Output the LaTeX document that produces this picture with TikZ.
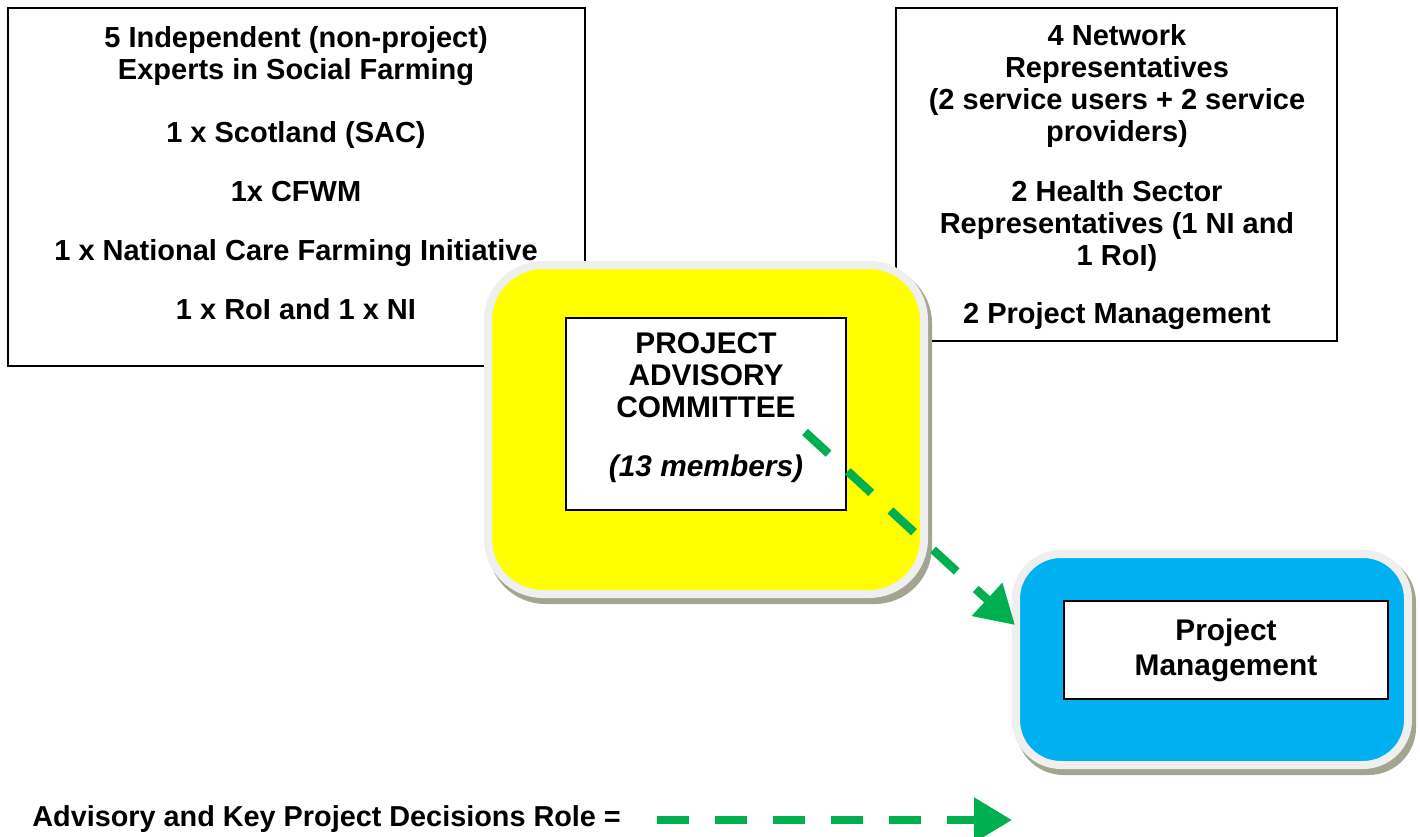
\documentclass[tikz,border=0pt]{standalone}
\usepackage{fontspec}
\setmainfont{Liberation Sans}
\usetikzlibrary{arrows.meta}
\definecolor{pacyellow}{HTML}{FFFF00}
\definecolor{pmblue}{HTML}{00B0F0}
\definecolor{arrowgreen}{HTML}{00B050}
\definecolor{rimgray}{HTML}{EFEFEF}
\definecolor{shadowgray}{HTML}{A3A590}
\begin{document}
\begin{tikzpicture}[x=0.02cm,y=-0.02cm,
  txt/.style={font=\bfseries\fontsize{16.5}{18.2}\selectfont, align=center, inner sep=0pt},
  bigtxt/.style={font=\bfseries\fontsize{17}{18.2}\selectfont, align=center, inner sep=0pt},
  plainbox/.style={draw=black, line width=0.8pt, fill=white, inner sep=0pt},
  roundbox/.style={draw=rimgray, line width=0.16cm, inner sep=0pt},
  shadowfill/.style={fill=shadowgray},
  greenarrow/.style={draw=arrowgreen, line width=0.17cm, dash pattern=on 0.64cm off 0.52cm,
    -{Triangle[length=0.76cm, width=0.86cm, fill=arrowgreen]}}
]
\useasboundingbox (0,0) rectangle (1420,836);
\fill[white] (0,0) rectangle (1420,836);

% left experts box
\node[plainbox, minimum width=577*0.02cm, minimum height=358*0.02cm] (expertsbox) at (296.5,187) {};
\node[txt, anchor=north] (expertstext) at (296,26) {5 Independent (non-project)\\Experts in Social Farming\\[17.6pt]1 x Scotland (SAC)\\[15.4pt]1x CFWM\\[15.4pt]1 x National Care Farming Initiative\\[15.4pt]1 x RoI and 1 x NI};

% right representatives box
\node[plainbox, minimum width=441*0.02cm, minimum height=333*0.02cm] (repsbox) at (1116.5,174.5) {};
\node[txt, anchor=north] (repstext) at (1117,24) {4 Network\\Representatives\\(2 service users + 2 service\\providers)\\[16pt]2 Health Sector\\Representatives (1 NI and\\1 RoI)\\[14.8pt]2 Project Management};

% yellow committee box
\fill[shadowfill, rounded corners=1.15cm] (488,266) rectangle (932,604);
\node[roundbox, fill=pacyellow, rounded corners=1.1cm, minimum width=436*0.02cm, minimum height=329*0.02cm] (committee) at (706,429.5) {};
\node[plainbox, minimum width=280*0.02cm, minimum height=192*0.02cm] (committeeinner) at (706,414) {};
\node[bigtxt, anchor=north] (committeetext) at (706,332) {PROJECT\\ADVISORY\\COMMITTEE\\[15.4pt]\textit{(13 members)}};

% blue management box
\fill[shadowfill, rounded corners=0.95cm] (1016,555) rectangle (1416,775);
\node[roundbox, fill=pmblue, rounded corners=0.9cm, minimum width=392*0.02cm, minimum height=211*0.02cm] (mgmt) at (1212,659.5) {};
\node[plainbox, bigtxt, font=\bfseries\fontsize{17}{20}\selectfont, minimum width=324*0.02cm, minimum height=98*0.02cm] (mgmtinner) at (1226,650) {Project\\Management};

% arrow
\coordinate (arrowfrom) at (805,432);
\draw[greenarrow] (arrowfrom) -- ([yshift=0.69cm, xshift=0.06cm]mgmt.west);

% legend
\node[txt, font=\bfseries\fontsize{16.4}{18}\selectfont, anchor=west] (legendtext) at (32,819) {Advisory and Key Project Decisions Role =};
\coordinate (legendfrom) at (657,820);
\coordinate (legendto) at (1012,820);
\draw[greenarrow] (legendfrom) -- (legendto);
\end{tikzpicture}
\end{document}
